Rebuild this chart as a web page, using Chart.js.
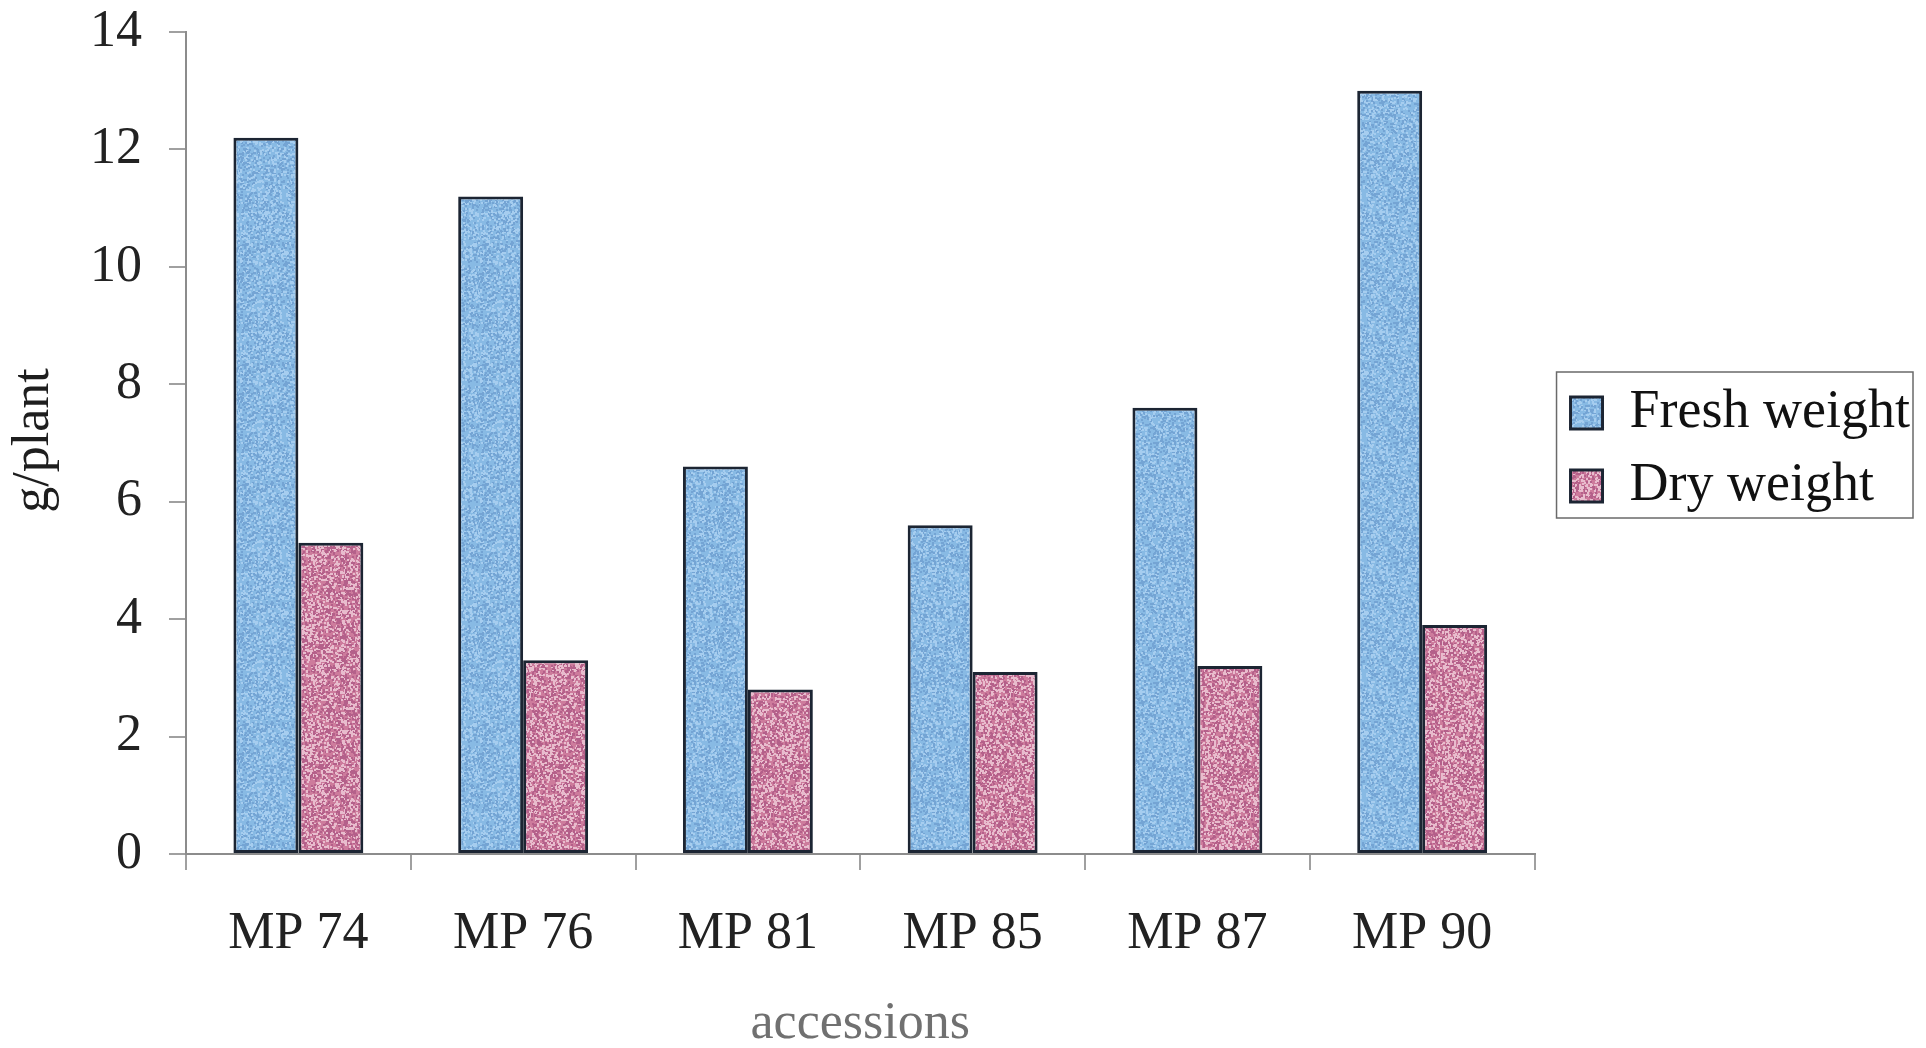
<!DOCTYPE html>
<html>
<head>
<meta charset="utf-8">
<script src="https://cdn.jsdelivr.net/npm/chart.js@4.4.1/dist/chart.umd.min.js"></script>
<style>
  html, body { margin: 0; padding: 0; background: #ffffff; overflow: hidden; }
  #wrap { position: relative; width: 1926px; height: 1048px; }
</style>
</head>
<body>
<div id="wrap"><canvas id="c" width="1926" height="1048"></canvas></div>
<script>
// Fresh and dry weight per plant for each accession (g/plant)
const accessions = ['MP 74', 'MP 76', 'MP 81', 'MP 85', 'MP 87', 'MP 90'];
const freshWeight = [12.2, 11.2, 6.6, 5.6, 7.6, 13.0];
const dryWeight = [5.3, 3.3, 2.8, 3.1, 3.2, 3.9];
const yTicks = [0, 2, 4, 6, 8, 10, 12, 14];

const SERIF = "'Liberation Serif', 'Times New Roman', serif";

// Speckled fill, like a printed and scanned bar
function speckle(base, light, dark, seed, count) {
  const size = 120;
  const c = document.createElement('canvas');
  c.width = c.height = size;
  const g = c.getContext('2d');
  g.fillStyle = base;
  g.fillRect(0, 0, size, size);
  let s = seed;
  const next = () => (s = (s * 16807) % 2147483647) / 2147483647;
  for (let i = 0; i < count; i++) {
    const x = Math.floor(next() * size);
    const y = Math.floor(next() * size);
    g.fillStyle = next() < 0.5 ? light : dark;
    g.fillRect(x, y, 2, 2);
  }
  return g.createPattern(c, 'repeat');
}

const blueFill = speckle('#88bae4', '#a6cdef', '#74a4d4', 7919, 3000);
const pinkFill = speckle('#cd7b9c', '#e8bccd', '#b4608a', 104729, 4200);

// Thin frame around the legend entries
const legendFrame = {
  id: 'legendFrame',
  afterDraw(chart) {
    const lg = chart.legend;
    if (!lg || !lg.legendHitBoxes || !lg.legendHitBoxes.length) return;
    const hb = lg.legendHitBoxes;
    const x0 = Math.min(...hb.map(h => h.left)) - 14;
    const y0 = hb[0].top - 14;
    const x1 = Math.max(...hb.map(h => h.left + h.width)) + 3;
    const y1 = hb[hb.length - 1].top + hb[hb.length - 1].height + 5;
    const ctx = chart.ctx;
    ctx.save();
    ctx.strokeStyle = '#6a6a6a';
    ctx.lineWidth = 1.5;
    ctx.strokeRect(x0, y0, x1 - x0, y1 - y0);
    ctx.restore();
  }
};

// Vertical axis title, centred along the value axis
const yTitle = {
  id: 'yTitle',
  afterDraw(chart) {
    const a = chart.chartArea;
    const ctx = chart.ctx;
    ctx.save();
    ctx.translate(a.left - 152, a.top + (a.bottom - a.top) * 0.497);
    ctx.rotate(-Math.PI / 2);
    ctx.font = '52px ' + SERIF;
    ctx.fillStyle = '#1e1e1e';
    ctx.textAlign = 'center';
    ctx.textBaseline = 'middle';
    ctx.fillText('g/plant', 0, 0);
    ctx.restore();
  }
};

new Chart(document.getElementById('c'), {
  type: 'bar',
  data: {
    labels: accessions,
    datasets: [
      { label: 'Fresh weight', data: freshWeight, backgroundColor: blueFill },
      { label: 'Dry weight', data: dryWeight, backgroundColor: pinkFill }
    ]
  },
  options: {
    responsive: false,
    devicePixelRatio: 1,
    animation: false,
    layout: { padding: { top: 0, right: 6, bottom: 0, left: 0 } },
    datasets: {
      bar: {
        categoryPercentage: 0.578,
        barPercentage: 1.0,
        borderColor: '#1c2533',
        borderWidth: 3,
        borderSkipped: false
      }
    },
    scales: {
      x: {
        grid: { display: true, drawOnChartArea: false, tickLength: 16, color: '#a0a0a0', lineWidth: 2, offset: true },
        border: { display: true, color: '#8c8c8c', width: 2 },
        ticks: { font: { family: SERIF, size: 52 }, color: '#222222', padding: 33, maxRotation: 0 },
        title: {
          display: true, text: 'accessions',
          font: { family: SERIF, size: 52, lineHeight: 0.9 },
          color: '#707070', padding: { top: 0, bottom: 0 }
        },
        afterFit(s) { s.height = 194; }
      },
      y: {
        min: 0, max: 14,
        afterBuildTicks(s) { s.ticks = yTicks.map(v => ({ value: v })); },
        grid: { display: true, drawOnChartArea: false, tickLength: 17, color: '#a0a0a0', lineWidth: 2 },
        border: { display: true, color: '#8c8c8c', width: 2 },
        ticks: { font: { family: SERIF, size: 52 }, color: '#222222', padding: 27 },
        afterFit(s) {
          s.width = 186;
          s.paddingTop = 32;
          s.paddingBottom = 0;
        }
      },
      gap: {
        position: 'right',
        display: true,
        grid: { display: false },
        border: { display: false },
        ticks: { display: false },
        afterFit(s) { s.width = 17; }
      }
    },
    plugins: {
      legend: {
        position: 'right',
        fullSize: false,
        maxWidth: 420,
        title: { display: true, text: ' ', font: { size: 13, lineHeight: 1 }, padding: 0 },
        labels: {
          font: { family: SERIF, size: 54 },
          color: '#111111',
          boxWidth: 32,
          boxHeight: 32,
          padding: 19
        }
      },
      tooltip: { enabled: false }
    }
  },
  plugins: [legendFrame, yTitle]
});
</script>
</body>
</html>
